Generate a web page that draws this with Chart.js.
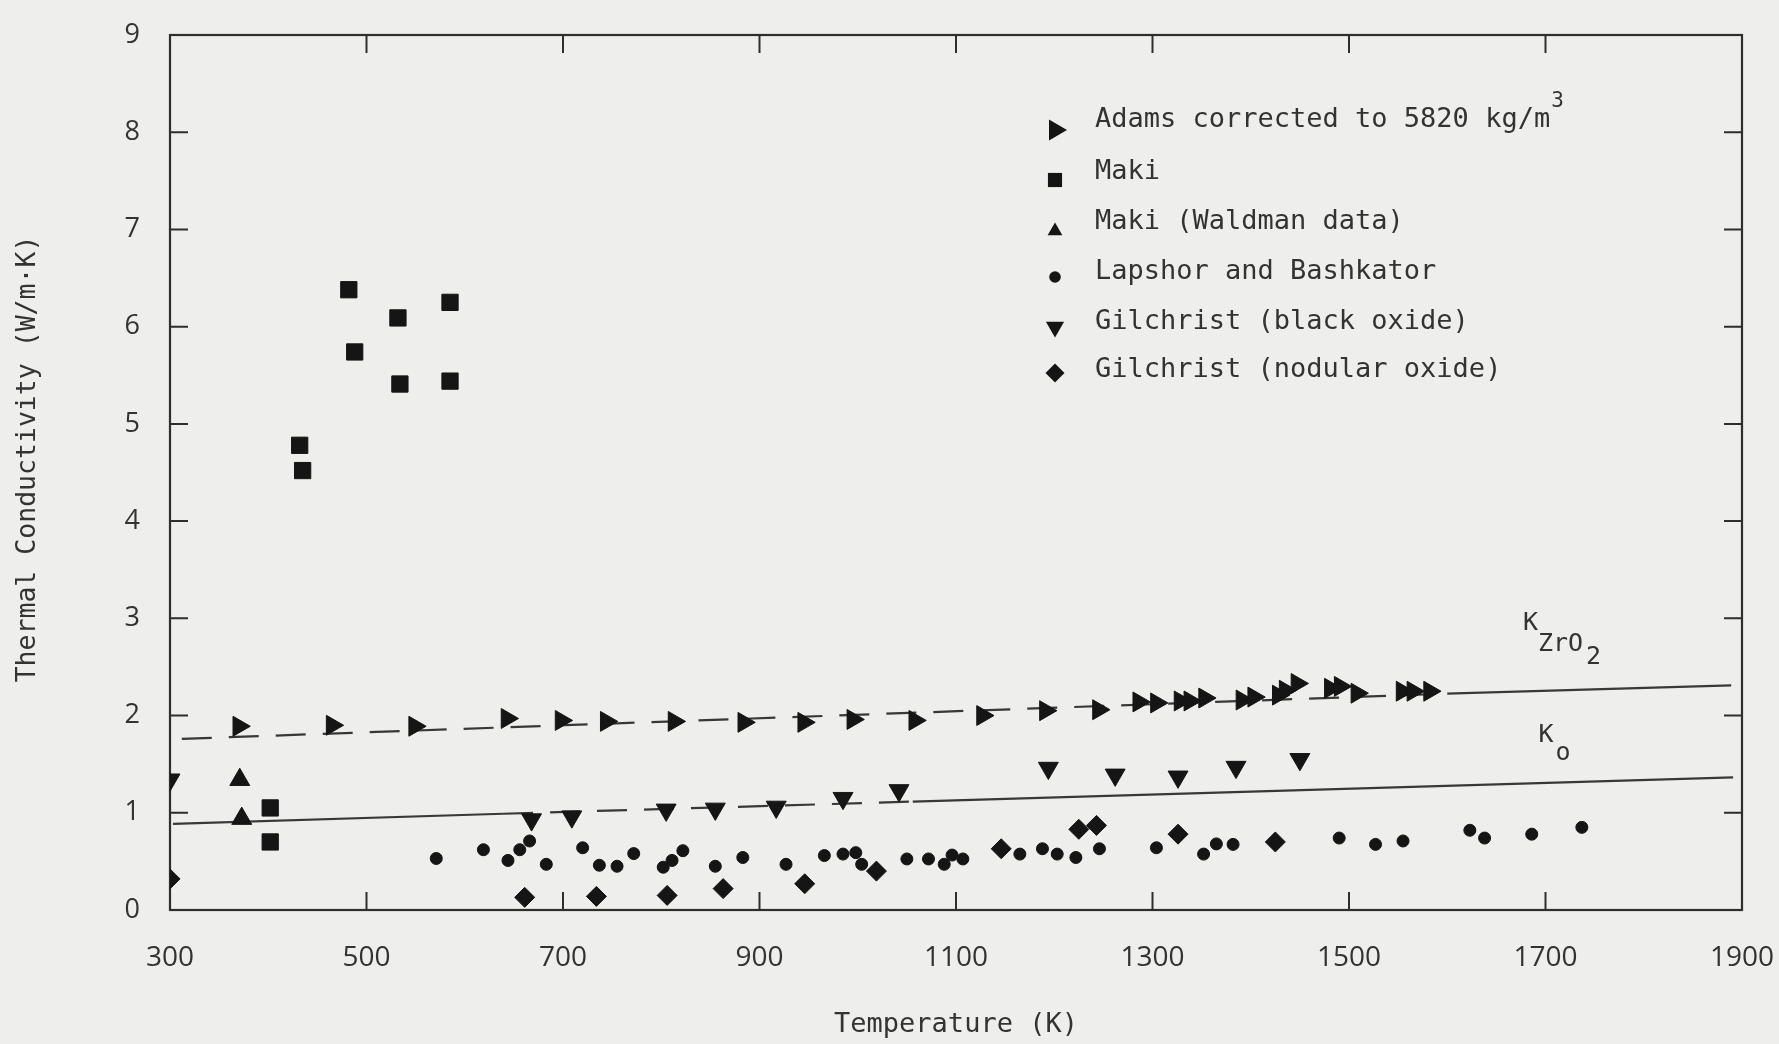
<!DOCTYPE html>
<html>
<head>
<meta charset="utf-8">
<script src="https://cdn.jsdelivr.net/npm/chart.js"></script>
<style>
  html, body { margin: 0; padding: 0; background: #eeeeec; }
  #wrap { width: 1779px; height: 1044px; }
</style>
</head>
<body>
<div id="wrap"><canvas id="kchart" width="1779" height="1044"></canvas></div>
<script>
// axis ticks
const xTicks = [300, 500, 700, 900, 1100, 1300, 1500, 1700, 1900];
const yTicks = [0, 1, 2, 3, 4, 5, 6, 7, 8, 9];

// Adams corrected to 5820 kg/m3
const adamsT = [370, 465, 549, 643, 698, 744, 813, 884, 945, 995, 1058, 1127, 1191, 1245, 1286,
  1304, 1328, 1338, 1353, 1391, 1403, 1428, 1435, 1447, 1481, 1491, 1508, 1554, 1565, 1582];
const adamsK = [1.89, 1.90, 1.89, 1.97, 1.95, 1.94, 1.94, 1.93, 1.93, 1.96, 1.95, 2.00, 2.05, 2.06, 2.14,
  2.13, 2.15, 2.15, 2.18, 2.16, 2.19, 2.21, 2.26, 2.33, 2.28, 2.30, 2.23, 2.25, 2.25, 2.25];

// Maki
const makiT = [432, 435, 482, 488, 532, 534, 585, 585, 402, 402];
const makiK = [4.78, 4.52, 6.38, 5.74, 6.09, 5.41, 6.25, 5.44, 1.05, 0.70];

// Maki (Waldman data)
const waldmanT = [371, 373];
const waldmanK = [1.34, 0.94];

// Lapshor and Bashkator
const lapshorT = [571, 619, 644, 656, 666, 683, 720, 737, 755, 772, 802, 811, 822, 855, 883, 927, 966,
  985, 998, 1004, 1050, 1072, 1088, 1096, 1107, 1165, 1188, 1203, 1222, 1246, 1304, 1352, 1365, 1382,
  1490, 1527, 1555, 1623, 1638, 1686, 1737];
const lapshorK = [0.53, 0.62, 0.51, 0.62, 0.71, 0.47, 0.64, 0.46, 0.45, 0.58, 0.44, 0.51, 0.61, 0.45,
  0.54, 0.47, 0.56, 0.575, 0.59, 0.47, 0.525, 0.525, 0.47, 0.565, 0.525, 0.575, 0.63, 0.575, 0.54, 0.63,
  0.64, 0.575, 0.68, 0.675, 0.74, 0.675, 0.71, 0.82, 0.74, 0.78, 0.85];

// Gilchrist (black oxide)
const blackT = [300, 668, 709, 805, 855, 917, 985, 1042, 1194, 1262, 1326, 1385, 1450];
const blackK = [1.34, 0.93, 0.96, 1.03, 1.04, 1.06, 1.15, 1.23, 1.46, 1.39, 1.37, 1.47, 1.55];

// Gilchrist (nodular oxide)
const nodularT = [300, 661, 734, 806, 863, 946, 1019, 1146, 1225, 1243, 1326, 1425];
const nodularK = [0.32, 0.13, 0.14, 0.15, 0.22, 0.27, 0.40, 0.63, 0.83, 0.87, 0.78, 0.70];

// correlation curves
const kzroT = [312, 1600, 1889];
const kzroK = [1.76, 2.225, 2.31];
const koT = [303, 639, 1056, 1891];
const koK = [0.885, 0.99, 1.115, 1.365];

const INK = '#151515';
const LINE = '#383838';
const TEXT = '#333333';
const MONO = '"DejaVu Sans Mono", "Liberation Mono", monospace';
const SANS = '"Open Sans", "Noto Sans", sans-serif';

const pts = (xs, ys) => xs.map((x, i) => ({ x: x, y: ys[i] }));

function markerSet(label, xs, ys, style, radius, rotation, legendRadius) {
  return {
    label: label,
    data: pts(xs, ys),
    pointStyle: style,
    pointRadius: radius,
    pointHoverRadius: radius,
    pointRotation: rotation || 0,
    backgroundColor: INK,
    borderColor: INK,
    borderWidth: 1,
    legendRadius: legendRadius,
    order: 1
  };
}

function curveSet(label, xs, ys, dashedIdx) {
  return {
    type: 'line',
    label: label,
    data: pts(xs, ys),
    showLine: true,
    pointRadius: 0,
    borderColor: LINE,
    borderWidth: 2.2,
    fill: false,
    order: 5,
    segment: {
      borderDash: c => (c.p0DataIndex === dashedIdx ? [30, 17] : undefined)
    }
  };
}

// marker drawing for the legend
function drawMarker(ctx, style, rot, x, y, r) {
  ctx.beginPath();
  if (style === 'rect') {
    const h = r * Math.SQRT1_2;
    ctx.rect(x - h, y - h, 2 * h, 2 * h);
  } else if (style === 'circle') {
    ctx.arc(x, y, r, 0, Math.PI * 2);
  } else if (style === 'rectRot') {
    ctx.moveTo(x, y - r); ctx.lineTo(x + r, y); ctx.lineTo(x, y + r); ctx.lineTo(x - r, y);
  } else {
    let a = rot * Math.PI / 180;
    for (let k = 0; k < 3; k++) {
      const px = x + Math.sin(a) * r, py = y - Math.cos(a) * r;
      if (k === 0) ctx.moveTo(px, py); else ctx.lineTo(px, py);
      a += Math.PI * 2 / 3;
    }
  }
  ctx.closePath();
  ctx.fill();
}

const paperPlugin = {
  id: 'paper',
  beforeDraw(chart) {
    const ctx = chart.ctx;
    ctx.save();
    ctx.fillStyle = '#eeeeec';
    ctx.fillRect(0, 0, chart.width, chart.height);
    ctx.restore();
  }
};

const framePlugin = {
  id: 'frame',
  beforeDatasetsDraw(chart) {
    const { ctx, chartArea: a, scales } = chart;
    ctx.save();
    ctx.strokeStyle = '#2e2e2e';
    ctx.lineWidth = 2.2;
    ctx.strokeRect(a.left, a.top, a.right - a.left, a.bottom - a.top);
    const len = 18;
    ctx.lineWidth = 2;
    ctx.beginPath();
    xTicks.slice(1, -1).forEach(v => {
      const px = scales.x.getPixelForValue(v);
      ctx.moveTo(px, a.bottom); ctx.lineTo(px, a.bottom - len);
      ctx.moveTo(px, a.top); ctx.lineTo(px, a.top + len);
    });
    yTicks.slice(1, -1).forEach(v => {
      const py = scales.y.getPixelForValue(v);
      ctx.moveTo(a.left, py); ctx.lineTo(a.left + len, py);
      ctx.moveTo(a.right, py); ctx.lineTo(a.right - len, py);
    });
    ctx.stroke();
    ctx.restore();
  }
};

const notesPlugin = {
  id: 'notes',
  afterDraw(chart) {
    const { ctx, scales } = chart;
    ctx.save();
    ctx.fillStyle = TEXT;
    ctx.textBaseline = 'middle';
    ctx.textAlign = 'left';

    // legend
    const rowsText = [120, 172, 222, 272, 322, 370];
    const rowsMark = [130, 180, 231, 277, 327, 373];
    const markX = 1055, textX = 1095;
    const sets = chart.data.datasets.filter(d => d.order === 1);
    sets.forEach((d, i) => {
      ctx.fillStyle = INK;
      drawMarker(ctx, d.pointStyle, d.pointRotation, markX, rowsMark[i], d.legendRadius);
      ctx.fillStyle = TEXT;
      ctx.font = '27px ' + MONO;
      let txt = d.label;
      if (txt.endsWith('³')) {
        txt = txt.slice(0, -1);
        ctx.fillText(txt, textX, rowsText[i]);
        const w = ctx.measureText(txt).width;
        ctx.font = '21px ' + MONO;
        ctx.fillText('3', textX + w + 1, rowsText[i] - 18);
      } else {
        ctx.fillText(txt, textX, rowsText[i]);
      }
    });

    // curve labels
    ctx.font = '25px ' + MONO;
    let x0 = scales.x.getPixelForValue(1677), y0 = scales.y.getPixelForValue(2.95);
    ctx.fillText('K', x0, y0);
    ctx.fillText('ZrO', x0 + 15, y0 + 21);
    ctx.fillText('2', x0 + 63, y0 + 34);
    x0 = scales.x.getPixelForValue(1693); y0 = scales.y.getPixelForValue(1.79);
    ctx.fillText('K', x0, y0);
    ctx.fillText('o', x0 + 17, y0 + 18);

    // y axis title
    ctx.translate(28, 459);
    ctx.rotate(-Math.PI / 2);
    ctx.textAlign = 'center';
    ctx.font = '26.5px ' + MONO;
    ctx.fillText('Thermal Conductivity (W/m·K)', 0, 0);
    ctx.restore();
  }
};

new Chart(document.getElementById('kchart'), {
  type: 'scatter',
  data: {
    datasets: [
      markerSet('Adams corrected to 5820 kg/m³', adamsT, adamsK, 'triangle', 11.5, 90, 12),
      markerSet('Maki', makiT, makiK, 'rect', 11.5, 0, 10),
      markerSet('Maki (Waldman data)', waldmanT, waldmanK, 'triangle', 11.5, 0, 8.5),
      markerSet('Lapshor and Bashkator', lapshorT, lapshorK, 'circle', 6, 0, 5.8),
      markerSet('Gilchrist (black oxide)', blackT, blackK, 'triangle', 11.5, 180, 10.5),
      markerSet('Gilchrist (nodular oxide)', nodularT, nodularK, 'rectRot', 10, 0, 9.5),
      curveSet('KZrO2', kzroT, kzroK, 0),
      curveSet('Ko', koT, koK, 1)
    ]
  },
  options: {
    responsive: false,
    animation: false,
    devicePixelRatio: 1,
    layout: { padding: { top: 35, right: 37, bottom: 0, left: 0 } },
    plugins: {
      legend: { display: false },
      tooltip: { enabled: false }
    },
    scales: {
      x: {
        type: 'linear',
        min: 300,
        max: 1900,
        afterFit: s => { s.height = 134; s.paddingLeft = 0; s.paddingRight = 0; },
        afterBuildTicks: s => { s.ticks = xTicks.map(v => ({ value: v })); },
        grid: { display: false },
        border: { display: false },
        ticks: {
          padding: 23,
          maxRotation: 0,
          autoSkip: false,
          color: TEXT,
          font: { family: SANS, size: 28 },
          callback: v => String(v)
        },
        title: {
          display: true,
          text: 'Temperature (K)',
          color: TEXT,
          font: { family: MONO, size: 27 },
          padding: { top: 0, bottom: 3 }
        }
      },
      y: {
        min: 0,
        max: 9,
        afterFit: s => { s.width = 170; s.paddingTop = 0; s.paddingBottom = 0; },
        afterBuildTicks: s => { s.ticks = yTicks.map(v => ({ value: v })); },
        grid: { display: false },
        border: { display: false },
        ticks: {
          padding: 22,
          color: TEXT,
          font: { family: SANS, size: 27 },
          callback: v => String(v)
        },
        title: { display: false }
      }
    }
  },
  plugins: [paperPlugin, framePlugin, notesPlugin]
});
</script>
</body>
</html>
